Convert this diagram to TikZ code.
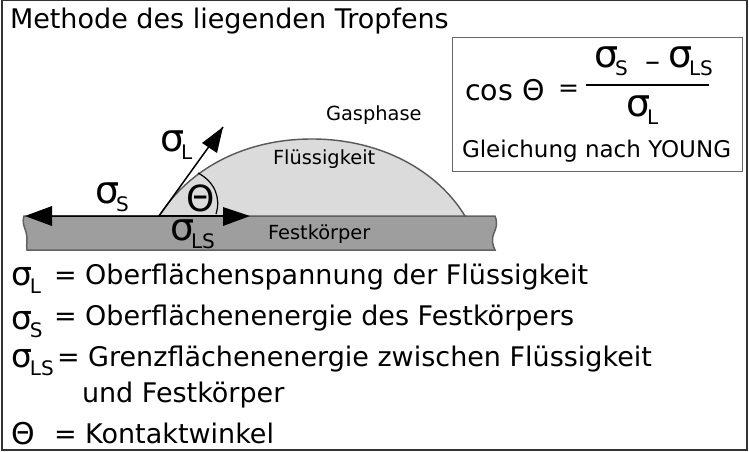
\documentclass[tikz,border=0pt]{standalone}
\usepackage{fontspec}
\setmainfont{DejaVu Sans}
\newcommand{\sgbig}[1]{{\fontsize{38}{42}\selectfont σ}\kern-3pt\raisebox{-8pt}{\fontsize{20}{24}\selectfont #1}}
\newcommand{\sgleg}[1]{{\fontsize{33}{37}\selectfont σ}\kern-2pt\raisebox{-8pt}{\fontsize{20}{24}\selectfont #1}}
\tikzset{
 lbl/.style={anchor=base west,inner sep=0pt,outer sep=0pt,text=black},
 big/.style={lbl,font=\fontsize{27}{31}\selectfont},
 sml/.style={lbl,font=\fontsize{19.4}{23}\selectfont},
 tip/.style={fill=black,draw=none},
}
\begin{document}
\begin{tikzpicture}[x=1pt,y=-1pt]
\useasboundingbox (0,0) rectangle (749,452);
\fill[white] (0,0) rectangle (749,452);
\draw[line width=1.5pt,black!80] (2,0) rectangle (747,450);
% solid
\draw[fill=black!38,draw=black!62,line width=1.5pt]
 (24,216) -- (495,216) .. controls (498,224) and (496,228) .. (494,233) .. controls (491,240) and (493,246) .. (495,250)
 -- (27,250) .. controls (26,244) and (28,238) .. (26,232) .. controls (24,226) and (22,222) .. (24,216) -- cycle;
% drop
\draw[fill=black!14,draw=black!66,line width=1.4pt]
 (159,216) .. controls (190,168) and (245,139) .. (312,139) .. controls (380,139) and (437,170) .. (465,216) -- cycle;
% vectors
\coordinate (o) at (159,216);
\coordinate (ltip) at (223,127);
\coordinate (stip) at (25,216);
\coordinate (lstip) at (250,216);
\draw[line width=1.5pt] (52,216) -- (o) -- (ltip);
\draw[line width=1.5pt] (o) -- (225,216);
\draw[line width=1.2pt] (198,173) .. controls (215,182) and (221,198) .. (216,214);
\fill[tip] (stip) -- (52,206) -- (52,226) -- cycle;
\fill[tip] (lstip) -- (223,207) -- (223,226) -- cycle;
\fill[tip] (ltip) -- (202,143) -- (217,153) -- cycle;
% labels
\node[lbl,font=\fontsize{27}{31}\selectfont] (title) at (10,29) {Methode des liegenden Tropfens};
\node[sml] (gas) at (326,120) {Gasphase};
\node[sml] (fl) at (273,164) {Flüssigkeit};
\node[sml] (fk) at (268,239) {Festkörper};
\node[lbl] (sL) at (160,151) {\sgbig{L}};
\node[lbl] (sS) at (95,203) {\sgbig{S}};
\node[lbl] (sLS) at (170,240) {\sgbig{LS}};
\node[lbl,font=\fontsize{36}{40}\selectfont] (th) at (186,211) {Θ};
% box
\draw[draw=black!60,line width=1pt] (452,38) rectangle (742,171);
\node[lbl,font=\fontsize{28.5}{33}\selectfont] (cos) at (465,100) {cos Θ};
\node[lbl,font=\fontsize{25}{29}\selectfont] (eq) at (558,96) {=};
\draw[line width=2pt] (586,85) -- (709,85);
\node[lbl] (a) at (594,67) {\sgbig{S}};
\node[lbl,font=\fontsize{30}{34}\selectfont] (mn) at (645,71) {–};
\node[lbl] (b) at (668,67) {\sgbig{LS}};
\node[lbl] (c) at (626,116) {\sgbig{L}};
\node[lbl,font=\fontsize{23}{27}\selectfont] (yg) at (462,157) {Gleichung nach YOUNG};
% legend
\node[lbl] (l1) at (11,285) {\sgleg{L}};
\node[big] (l1t) at (54,284) {= Oberflächenspannung der Flüssigkeit};
\node[lbl] (l2) at (11,329) {\sgleg{S}};
\node[big] (l2t) at (54,325) {= Oberflächenenergie des Festkörpers};
\node[lbl] (l3) at (11,367) {\sgleg{LS}};
\node[big] (l3t) at (57,366) {= Grenzflächenenergie zwischen Flüssigkeit};
\node[big] (l3u) at (82,402) {und Festkörper};
\node[lbl,font=\fontsize{30}{34}\selectfont] (l4) at (12,444) {Θ};
\node[big] (l4t) at (54,443) {= Kontaktwinkel};
\end{tikzpicture}
\end{document}
